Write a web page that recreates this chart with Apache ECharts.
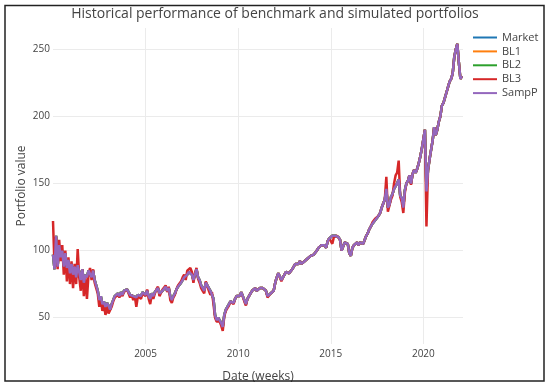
<!DOCTYPE html>
<html><head><meta charset="utf-8">
<script src="https://cdn.jsdelivr.net/npm/echarts@6/dist/echarts.min.js"></script>
<style>html,body{margin:0;padding:0;background:#fff}#c{width:550px;height:388px}</style>
</head><body><div id="c"></div>
<script>
// Monthly readings, Jan 2000 .. Feb 2022
const startYear = 2000;
const seriesNames = ['Market', 'BL1', 'BL2', 'BL3', 'SampP'];
const xTicks = [2005, 2010, 2015, 2020];
const yTicks = [50, 100, 150, 200, 250];

const sampP = [
 97, 86, 111, 88, 104, 95, 100, 88, 98, 87, 93, 83,
 90, 82, 88, 80, 89, 84, 78, 86, 76, 82, 80, 85,
 86, 80, 85, 78, 74, 70, 63, 66, 60, 62, 58, 61,
 59, 56, 60, 63, 66, 65, 68, 66, 69, 67, 70, 69,
 71, 69, 67, 68, 66, 67, 65, 67, 68, 66, 69, 68,
 67, 70, 66, 64, 68, 66, 69, 70, 72, 68, 67, 70,
 71, 73, 70, 72, 66, 63, 66, 68, 71, 73, 74, 76,
 78, 80, 79, 82, 84, 85, 82, 78, 82, 86, 80, 78,
 74, 72, 70, 76, 77, 72, 70, 71, 64, 52, 48, 50,
 49, 46, 43, 52, 56, 57, 60, 62, 63, 61, 64, 66,
 65, 66, 69, 70, 63, 60, 64, 65, 68, 70, 71, 72,
 70, 71, 72, 71, 72, 71, 70, 66, 65, 68, 69, 70,
 76, 80, 83, 82, 78, 80, 82, 84, 85, 83, 84, 86,
 88, 90, 91, 90, 92, 90, 91, 92, 93, 94, 95, 96,
 95, 97, 98, 100, 102, 103, 104, 103, 104, 102, 107, 109,
 110, 111, 110, 111, 111, 110, 108, 100, 99, 106, 107, 105,
 98, 96, 102, 104, 105, 106, 104, 106, 106, 105, 108, 111,
 113, 116, 118, 120, 121, 123, 124, 126, 128, 132, 135, 138,
 146, 132, 134, 140, 142, 146, 148, 150, 153, 141, 139, 132,
 145, 150, 152, 156, 150, 157, 160, 158, 161, 165, 170, 176,
 183, 190, 144, 160, 168, 175, 182, 192, 186, 190, 196, 200,
 208, 210, 214, 218, 222, 226, 228, 232, 244, 250, 254, 240,
 228, 230
];

const bl3 = [
 122, 88, 110, 86, 108, 92, 104, 82, 100, 77, 95, 75,
 92, 72, 90, 75, 101, 80, 70, 86, 66, 80, 64, 82,
 87, 78, 86, 76, 72, 68, 58, 64, 55, 60, 52, 58,
 53, 52, 58, 62, 65, 64, 67, 65, 68, 66, 69, 68,
 71, 68, 65, 67, 63, 66, 58, 66, 67, 64, 68, 67,
 66, 71, 64, 60, 67, 64, 68, 71, 73, 66, 65, 71,
 72, 74, 69, 73, 63, 61, 65, 67, 71, 74, 75, 77,
 80, 82, 78, 85, 86, 87, 84, 76, 83, 87, 79, 76,
 72, 70, 68, 77, 78, 70, 67, 69, 60, 50, 47, 48,
 47, 44, 40, 51, 55, 57, 59, 62, 63, 60, 64, 66,
 65, 66, 69, 70, 62, 59, 64, 65, 68, 70, 71, 72,
 70, 71, 72, 71, 72, 71, 70, 65, 64, 68, 69, 70,
 76, 80, 83, 82, 77, 80, 82, 84, 85, 83, 84, 86,
 88, 90, 91, 90, 92, 90, 91, 92, 93, 94, 95, 96,
 95, 97, 98, 100, 102, 103, 104, 103, 104, 102, 107, 109,
 110, 105, 110, 111, 111, 110, 108, 100, 99, 106, 107, 105,
 98, 96, 102, 104, 105, 106, 104, 106, 106, 105, 108, 111,
 113, 116, 118, 121, 121, 124, 124, 126, 128, 132, 135, 138,
 155, 129, 130, 138, 141, 150, 156, 158, 167, 140, 136, 128,
 143, 150, 152, 156, 149, 157, 160, 158, 161, 165, 170, 176,
 183, 190, 118, 160, 168, 175, 182, 192, 186, 190, 196, 200,
 208, 210, 214, 218, 222, 226, 228, 232, 244, 250, 254, 240,
 228, 230
];

// Market, BL1 and BL2 are fully hidden under SampP in the picture: same readings
const market = sampP.slice();
const bl1 = sampP.slice();
const bl2 = sampP.slice();

const colors = ['#1f77b4', '#ff7f0e', '#2ca02c', '#d62728', '#9467bd'];
const values = [market, bl1, bl2, bl3, sampP];
const font = '"Open Sans", "DejaVu Sans", sans-serif';

const chart = echarts.init(document.getElementById('c'), null, {renderer: 'canvas'});
chart.setOption({
  animation: false,
  backgroundColor: '#fff',
  title: {
    text: 'Historical performance of benchmark and simulated portfolios',
    left: 'center', top: 2,
    textStyle: {fontFamily: font, fontSize: 14, fontWeight: 'normal', color: '#444'}
  },
  legend: {
    orient: 'vertical', left: 473, top: 32, padding: 0,
    itemWidth: 24, itemHeight: 2, itemGap: 2.9, icon: 'rect',
    textStyle: {fontFamily: font, fontSize: 11, color: '#444'},
    data: seriesNames
  },
  grid: {left: 53, right: 87, top: 28, bottom: 41},
  xAxis: {
    type: 'value', min: 2000, max: 2022.14,
    name: 'Date (weeks)', nameLocation: 'middle', nameGap: 27, nameMoveOverlap: false,
    nameTextStyle: {fontFamily: font, fontSize: 12, color: '#444'},
    axisLine: {show: false}, axisTick: {show: false, customValues: xTicks},
    axisLabel: {customValues: xTicks, formatter: v => String(v), fontFamily: font, fontSize: 10, color: '#444', margin: 5},
    splitLine: {show: true, lineStyle: {color: '#ebebeb', width: 1}}
  },
  yAxis: {
    type: 'value', min: 30.3, max: 265.9,
    name: 'Portfolio value', nameLocation: 'middle', nameGap: 25, nameMoveOverlap: false,
    nameTextStyle: {fontFamily: font, fontSize: 12, color: '#444'},
    axisLine: {show: false}, axisTick: {show: false, customValues: yTicks},
    axisLabel: {customValues: yTicks, formatter: v => String(v), fontFamily: font, fontSize: 10, color: '#444', margin: 3},
    splitLine: {show: true, lineStyle: {color: '#ebebeb', width: 1}}
  },
  series: seriesNames.map((n, k) => ({
    name: n, type: 'line', symbol: 'none', showSymbol: false,
    color: colors[k],
    lineStyle: {width: 2.5, color: colors[k]},
    data: values[k].map((v, i) => [startYear + i / 12, v])
  })),
  graphic: [{
    type: 'rect', silent: true, z: 100,
    shape: {x: 5, y: 5.5, width: 539, height: 375.5},
    style: {fill: 'none', stroke: '#222', lineWidth: 1.5}
  }]
});
</script></body></html>
